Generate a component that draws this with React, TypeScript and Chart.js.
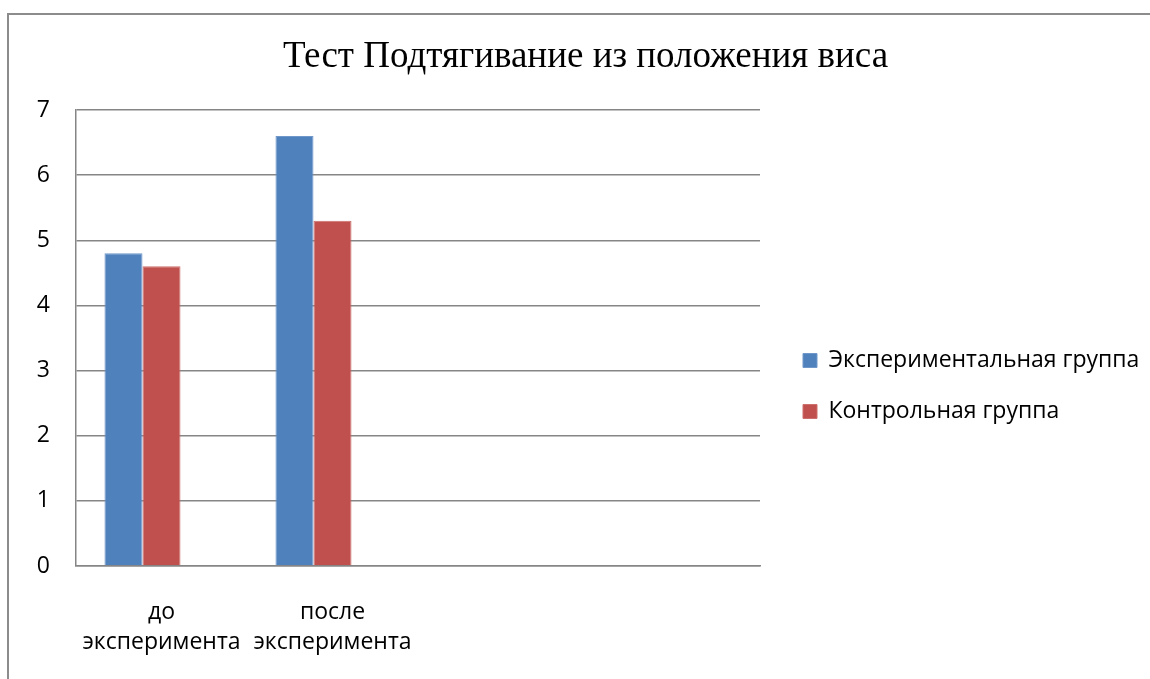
import React, { useEffect, useRef } from "react";
import { Chart, registerables } from "chart.js";

Chart.register(...registerables);

const chartTitle = "Тест Подтягивание из положения виса";
const categories: (string | string[])[] = [["до", "эксперимента"], ["после", "эксперимента"], "", ""];
const seriesNames = ["Экспериментальная группа", "Контрольная группа", ""];
const experimental: (number | null)[] = [4.8, 6.6, null, null];
const control: (number | null)[] = [4.6, 5.3, null, null];
const emptySeries: (number | null)[] = [null, null, null, null];
const yMin = 0;
const yMax = 7;
const yStep = 1;

const SANS = "'Open Sans', 'Noto Sans', 'DejaVu Sans', sans-serif";
const SERIF = "'Liberation Serif', 'Times New Roman', serif";
const GRID = "#868686";
const FS = 23;

const framePlugin = {
  id: "frame",
  beforeDraw(chart: any) {
    const ctx = chart.ctx;
    ctx.save();
    ctx.fillStyle = "#ffffff";
    ctx.fillRect(0, 0, chart.width, chart.height);
    ctx.strokeStyle = "#8c8c8c";
    ctx.lineWidth = 2;
    ctx.beginPath();
    ctx.moveTo(8, chart.height);
    ctx.lineTo(8, 14);
    ctx.lineTo(chart.width, 14);
    ctx.stroke();
    ctx.restore();
  },
};

const legendPlacement = {
  id: "legendPlacement",
  beforeLayout(chart: any) {
    const lg = chart.legend;
    if (lg && !lg._patchedFit) {
      const orig = lg.fit.bind(lg);
      lg.fit = function () {
        orig();
        this.width = 390;
      };
      lg._patchedFit = true;
    }
  },
  afterLayout(chart: any) {
    const lg = chart.legend;
    if (!lg) return;
    lg.left = 775;
    lg.right = 1150;
    lg.top = 321;
    lg.bottom = 679;
  },
};

export default function App() {
  const ref = useRef<HTMLCanvasElement | null>(null);

  useEffect(() => {
    if (!ref.current) return;
    const chart = new Chart(ref.current, {
      type: "bar",
      data: {
        labels: categories,
        datasets: [
          { label: seriesNames[0], data: experimental, backgroundColor: "#4F81BD", borderColor: "#6f97c9", borderWidth: 1 },
          { label: seriesNames[1], data: control, backgroundColor: "#C0504D", borderColor: "#cd6f6c", borderWidth: 1 },
          { label: seriesNames[2], data: emptySeries, backgroundColor: "#9BBB59" },
        ],
      },
      options: {
        responsive: false,
        animation: false,
        layout: { padding: { left: 21, top: 0, right: 0, bottom: 0 } },
        datasets: { bar: { categoryPercentage: 0.667, barPercentage: 1 } } as any,
        plugins: {
          title: {
            display: true,
            text: chartTitle,
            color: "#000",
            font: { family: SERIF, size: 37, weight: "normal", lineHeight: 1.2 },
            padding: { top: 35, bottom: 30.6 },
          },
          legend: {
            position: "right",
            align: "start",
            labels: {
              color: "#000",
              font: { family: SANS, size: FS },
              boxWidth: 14,
              boxHeight: 14,
              padding: 28,
              filter: (item: any) => item.text !== "",
            },
          },
          tooltip: { enabled: false },
        },
        scales: {
          x: {
            grid: { display: false, drawTicks: false },
            border: { display: true, color: GRID, width: 1.5 },
            ticks: {
              color: "#000",
              font: { family: SANS, size: FS, lineHeight: 1.3 },
              padding: 32,
              maxRotation: 0,
              minRotation: 0,
              autoSkip: false,
            },
            afterFit: (s: any) => {
              s.height = 113;
            },
          },
          y: {
            min: yMin,
            max: yMax,
            ticks: {
              stepSize: yStep,
              color: "#000",
              font: { family: SANS, size: FS },
              padding: 26,
            },
            grid: { color: GRID, lineWidth: 1.5, drawTicks: false },
            border: { display: true, color: GRID, width: 1.5 },
            afterFit: (s: any) => {
              s.width = 55;
            },
          },
        },
      },
      plugins: [framePlugin, legendPlacement],
    });
    return () => chart.destroy();
  }, []);

  return (
    <div style={{ position: "absolute", left: 0, top: 0, width: 1150, height: 679 }}>
      <canvas ref={ref} width={1150} height={679} style={{ display: "block" }} />
    </div>
  );
}
